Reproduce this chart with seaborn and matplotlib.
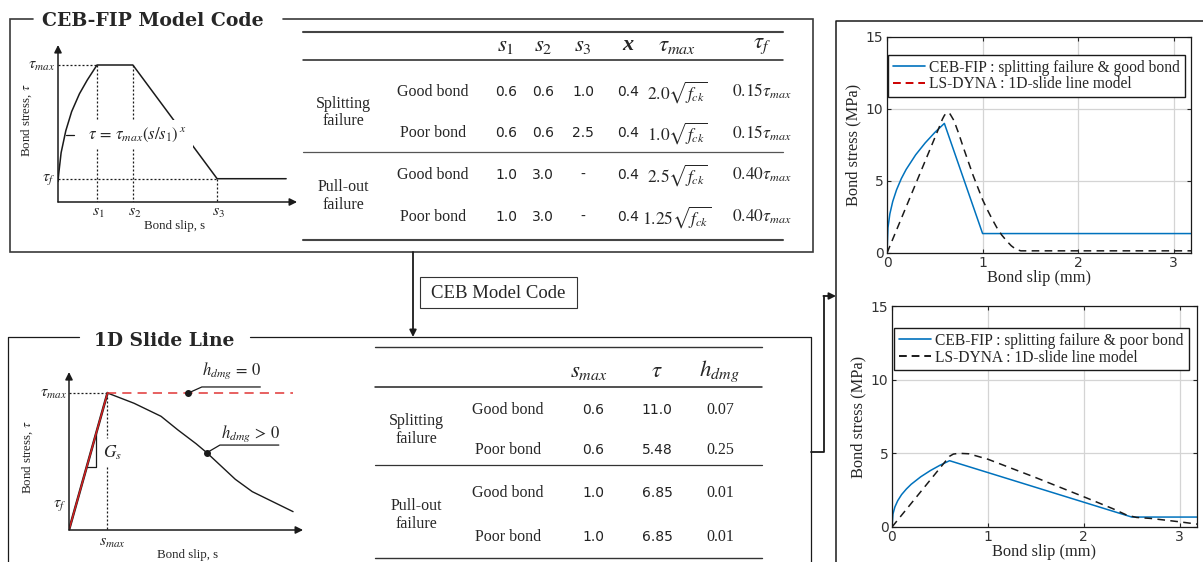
import matplotlib
matplotlib.use("Agg")
import matplotlib.pyplot as plt
import seaborn as sns
from matplotlib.lines import Line2D
from matplotlib.patches import Rectangle

# ---------------- table contents ----------------
ceb_groups = ["Splitting\nfailure", "Pull-out\nfailure"]
ceb_bond = ["Good bond", "Poor bond", "Good bond", "Poor bond"]
ceb_s1 = ["0.6", "0.6", "1.0", "1.0"]
ceb_s2 = ["0.6", "0.6", "3.0", "3.0"]
ceb_s3 = ["1.0", "2.5", "-", "-"]
ceb_x = ["0.4", "0.4", "0.4", "0.4"]
ceb_tmax = [r"$2.0\sqrt{f_{ck}}$", r"$1.0\sqrt{f_{ck}}$",
            r"$2.5\sqrt{f_{ck}}$", r"$1.25\sqrt{f_{ck}}$"]
ceb_tf = [r"$0.15\tau_{max}$", r"$0.15\tau_{max}$",
          r"$0.40\tau_{max}$", r"$0.40\tau_{max}$"]
ceb_headers = [r"$s_1$", r"$s_2$", r"$s_3$", "x", r"$\tau_{max}$", r"$\tau_f$"]

sl_groups = ["Splitting\nfailure", "Pull-out\nfailure"]
sl_bond = ["Good bond", "Poor bond", "Good bond", "Poor bond"]
sl_smax = ["0.6", "0.6", "1.0", "1.0"]
sl_tau = ["11.0", "5.48", "6.85", "6.85"]
sl_hdmg = ["0.07", "0.25", "0.01", "0.01"]
sl_headers = [r"$s_{max}$", r"$\tau$", r"$h_{dmg}$"]

# ---------------- schematic curves (normalised units) ----------------
ceb_sch_s = [0.0, 0.02, 0.08, 0.2, 0.35, 0.55, 0.75, 1.0, 1.92, 4.08, 5.85]
ceb_sch_tau = [0.15, 0.21, 0.36, 0.52, 0.66, 0.79, 0.89, 1.0, 1.0, 0.17, 0.17]

sl_rise_s = [0.0, 1.0]
sl_rise_tau = [0.0, 1.0]
sl_soft_s = [1.0, 1.69, 2.39, 2.83, 3.3, 3.58, 4.32, 4.76, 5.82]
sl_soft_tau = [1.0, 0.925, 0.83, 0.73, 0.63, 0.564, 0.37, 0.28, 0.134]
sl_perfect_s = [1.0, 5.82]
sl_perfect_tau = [1.0, 1.0]

# ---------------- bond stress-slip curves (MPa vs mm) ----------------
good_ceb_slip = [0, 0.01, 0.03, 0.06, 0.1, 0.15, 0.2, 0.3, 0.4, 0.5, 0.6, 1.0, 3.2]
good_ceb_stress = [0, 1.75, 2.72, 3.58, 4.39, 5.17, 5.80, 6.82, 7.65, 8.37, 9.0, 1.35, 1.35]
good_dyna_slip = [0, 0.3, 0.55, 0.58, 0.6, 0.62, 0.64, 0.66, 0.7, 0.75, 0.8, 0.9,
                  1.0, 1.05, 1.1, 1.15, 1.2, 1.25, 1.3, 1.35, 1.4, 3.2]
good_dyna_stress = [0, 4.8, 8.8, 9.3, 9.55, 9.72, 9.75, 9.65, 9.2, 8.3, 7.3, 5.4,
                    3.7, 3.0, 2.35, 1.75, 1.25, 0.85, 0.5, 0.25, 0.15, 0.15]

poor_ceb_slip = [0, 0.01, 0.03, 0.06, 0.1, 0.15, 0.2, 0.3, 0.4, 0.5, 0.6, 2.5, 3.2]
poor_ceb_stress = [0, 0.88, 1.36, 1.79, 2.2, 2.58, 2.9, 3.41, 3.83, 4.19, 4.5, 0.675, 0.675]
poor_dyna_slip = [0, 0.6, 0.64, 0.7, 0.8, 1.0, 1.5, 2.0, 2.3, 2.45, 2.55, 2.7, 3.0, 3.2]
poor_dyna_stress = [0, 4.8, 4.95, 5.0, 4.97, 4.6, 3.35, 2.05, 1.25, 0.8, 0.65, 0.58, 0.35, 0.18]

legend_good = ["CEB-FIP : splitting failure & good bond", "LS-DYNA : 1D-slide line model"]
legend_poor = ["CEB-FIP : splitting failure & poor bond", "LS-DYNA : 1D-slide line model"]

# ---------------- style ----------------
sns.set_theme(style="white")
plt.rcParams["font.family"] = ["Liberation Serif", "DejaVu Serif"]
plt.rcParams["mathtext.fontset"] = "stix"

BLUE = "#0072BD"
SERIF = "Liberation Serif"
SANS = "DejaVu Sans"
W, H = 1203, 562

fig = plt.figure(figsize=(W / 100, H / 100), dpi=100)
fig.patch.set_facecolor("white")

canvas = fig.add_axes([0, 0, 1, 1])
canvas.set_xlim(0, W)
canvas.set_ylim(H, 0)
canvas.axis("off")


def px_axes(x0, y0, x1, y1):
    return fig.add_axes([x0 / W, 1 - y1 / H, (x1 - x0) / W, (y1 - y0) / H])


# ---------------- frames, titles, arrows ----------------
canvas.plot([33, 10, 10, 813, 813, 283], [19, 19, 252, 252, 19, 19],
            color="#3a3a3a", lw=1.2, solid_joinstyle="miter")
canvas.text(152.5, 21, "CEB-FIP Model Code", family="DejaVu Serif", weight="bold",
            size=13.6, ha="center", va="center")

canvas.plot([79, 8, 8], [337, 337, 570], color="k", lw=0.9)
canvas.plot([250, 811, 811], [337, 337, 570], color="k", lw=0.9)
canvas.text(164, 341, "1D Slide Line", family="DejaVu Serif", weight="bold",
            size=13.4, ha="center", va="center")

canvas.plot([836, 836, 1210], [570, 21, 21], color="k", lw=1.1)

canvas.annotate("", xy=(413, 337), xytext=(413, 252),
                arrowprops=dict(arrowstyle="-|>", color="k", lw=1.3,
                                mutation_scale=10, shrinkA=0, shrinkB=0))
canvas.add_patch(Rectangle((420, 277), 157, 31, fill=False, edgecolor="#333333", lw=0.8))
canvas.text(498.5, 293, "CEB Model Code", size=13.5, ha="center", va="center")

canvas.plot([811, 824, 824], [452, 452, 296], color="k", lw=1.3)
canvas.annotate("", xy=(836, 296), xytext=(823.4, 296),
                arrowprops=dict(arrowstyle="-|>", color="k", lw=1.3,
                                mutation_scale=10, shrinkA=0, shrinkB=0))

# ---------------- CEB-FIP table ----------------
tx0, tx1 = 303, 783
canvas.plot([tx0, tx1], [31.7, 31.7], color="#444444", lw=1.5)
canvas.plot([tx0, tx1], [60, 60], color="#222222", lw=1.1)
canvas.plot([tx0, tx1], [151.7, 151.7], color="#555555", lw=0.9)
canvas.plot([tx0, tx1], [240, 240], color="#444444", lw=1.5)

ceb_cols = [506, 543, 583, 628, 677, 762]
for xc, hd in zip(ceb_cols, ceb_headers):
    if hd == "x":
        canvas.text(xc, 45, hd, family=SERIF, weight="bold", style="italic",
                    size=16, ha="center", va="center")
    else:
        canvas.text(xc, 45, hd, size=16.5, ha="center", va="center")

ceb_rows = [91.7, 133.3, 175, 216.7]
for gi, grp in enumerate(ceb_groups):
    yc = (ceb_rows[2 * gi] + ceb_rows[2 * gi + 1]) / 2
    canvas.text(343, yc, grp, size=11.5, ha="center", va="center", linespacing=1.15)
for i, yc in enumerate(ceb_rows):
    canvas.text(433, yc, ceb_bond[i], size=11.5, ha="center", va="center")
    for xc, col in zip(ceb_cols[:4], [ceb_s1, ceb_s2, ceb_s3, ceb_x]):
        canvas.text(xc, yc, col[i], family=SANS, size=10, color="#222222",
                    ha="center", va="center")
    canvas.text(ceb_cols[4], yc, ceb_tmax[i], size=12.5, ha="center", va="center")
    canvas.text(ceb_cols[5], yc, ceb_tf[i], size=12.5, ha="center", va="center")

# ---------------- slide line table ----------------
sx0, sx1 = 375, 762
canvas.plot([sx0, sx1], [346.7, 346.7], color="#333333", lw=1.0)
canvas.plot([sx0, sx1], [386.7, 386.7], color="#222222", lw=1.1)
canvas.plot([sx0, sx1], [465, 465], color="#333333", lw=0.9)
canvas.plot([sx0, sx1], [558.3, 558.3], color="#333333", lw=1.0)

sl_cols = [589, 657, 719]
for xc, hd in zip(sl_cols, sl_headers):
    canvas.text(xc, 371.7, hd, size=16.5, ha="center", va="center")

sl_rows = [410, 450, 493, 536.7]
for gi, grp in enumerate(sl_groups):
    yc = (sl_rows[2 * gi] + sl_rows[2 * gi + 1]) / 2
    canvas.text(416.7, yc, grp, size=11.5, ha="center", va="center", linespacing=1.15)
for i, yc in enumerate(sl_rows):
    canvas.text(508, yc, sl_bond[i], size=11.5, ha="center", va="center")
    canvas.text(593, yc, sl_smax[i], family=SANS, size=10, color="#222222",
                ha="center", va="center")
    canvas.text(657, yc, sl_tau[i], family=SANS, size=10, color="#222222",
                ha="center", va="center")
    canvas.text(720, yc, sl_hdmg[i], size=11.5, ha="center", va="center")

# ---------------- CEB-FIP schematic ----------------
arrow_kw = dict(arrowstyle="-|>", color="k", lw=1.1, mutation_scale=11,
                shrinkA=0, shrinkB=0)
dot_kw = dict(color="k", lw=0.9, ls=(0, (1.6, 1.6)))
MS = 11.5  # size of schematic math labels

ax_c = px_axes(58, 202 - 137 * 1.2, 58 + 39 * 6.3, 202)
ax_c.set_xlim(0, 6.3)
ax_c.set_ylim(0, 1.2)
ax_c.axis("off")
ax_c.patch.set_alpha(0)
ax_c.annotate("", xy=(6.13, 0), xytext=(0, 0), arrowprops=arrow_kw, annotation_clip=False)
ax_c.annotate("", xy=(0, 1.146), xytext=(0, 0), arrowprops=arrow_kw, annotation_clip=False)
ax_c.plot([0, 1.0], [1.0, 1.0], **dot_kw)
ax_c.plot([1.0, 1.0], [1.0, 0], **dot_kw)
ax_c.plot([1.92, 1.92], [1.0, 0], **dot_kw)
ax_c.plot([0, 4.08], [0.17, 0.17], **dot_kw)
ax_c.plot([4.08, 4.08], [0.17, 0], **dot_kw)
sns.lineplot(x=ceb_sch_s, y=ceb_sch_tau, ax=ax_c, color="k", lw=1.1,
             estimator=None, sort=False, legend=False)
ax_c.plot([0.2, 0.42], [0.49, 0.49], color="k", lw=0.9)
ax_c.text(2.05, 0.49, r"$\tau\,=\,\tau_{max}(s/s_1)^{\;x}$", size=12,
          ha="center", va="center", zorder=6,
          bbox=dict(facecolor="white", edgecolor="none", pad=4))
ax_c.text(-0.06, 1.0, r"$\tau_{max}$", size=MS, ha="right", va="center")
ax_c.text(-0.06, 0.17, r"$\tau_f$", size=MS, ha="right", va="center")
for sx, lab in zip([1.0, 1.92, 4.08], [r"$s_1$", r"$s_2$", r"$s_3$"]):
    ax_c.text(sx + 0.04, -0.075, lab, size=MS, ha="center", va="center")
ax_c.text(3.0, -0.175, "Bond slip, s", size=9.3, ha="center", va="center")
ax_c.text(-0.8, 0.6, r"Bond stress, $\tau$", size=9.3, ha="center", va="center",
          rotation=90)

# ---------------- slide line schematic ----------------
ax_s = px_axes(69, 530 - 137 * 1.2, 69 + 38.5 * 6.3, 530)
ax_s.set_xlim(0, 6.3)
ax_s.set_ylim(0, 1.2)
ax_s.axis("off")
ax_s.patch.set_alpha(0)
ax_s.annotate("", xy=(6.08, 0), xytext=(0, 0), arrowprops=arrow_kw, annotation_clip=False)
ax_s.annotate("", xy=(0, 1.153), xytext=(0, 0), arrowprops=arrow_kw, annotation_clip=False)
ax_s.plot([0, 1.0], [1.0, 1.0], **dot_kw)
ax_s.plot([1.0, 1.0], [1.0, 0.67], **dot_kw)
ax_s.plot([1.0, 1.0], [0.46, 0], **dot_kw)
ax_s.plot([0.71, 0.71, 0.48], [0.71, 0.462, 0.462], color="k", lw=0.9)
sns.lineplot(x=sl_rise_s, y=sl_rise_tau, ax=ax_s, color="k", lw=1.8,
             estimator=None, sort=False, legend=False)
sns.lineplot(x=sl_rise_s, y=sl_rise_tau, ax=ax_s, color="#d42020", lw=1.1,
             estimator=None, sort=False, legend=False)
sns.lineplot(x=sl_soft_s, y=sl_soft_tau, ax=ax_s, color="k", lw=1.0,
             estimator=None, sort=False, legend=False)
sns.lineplot(x=sl_perfect_s, y=sl_perfect_tau, ax=ax_s, color="#e03535", lw=1.1,
             linestyle=(0, (6, 4)), estimator=None, sort=False, legend=False)
ax_s.plot([3.1], [1.0], "o", color="k", ms=4)
ax_s.plot([3.1, 3.45, 4.97], [1.0, 1.044, 1.044], color="k", lw=0.9)
ax_s.text(4.22, 1.16, r"$h_{dmg}\,=\,0$", size=12, ha="center", va="center")
ax_s.plot([3.58], [0.564], "o", color="k", ms=4)
ax_s.plot([3.58, 3.92, 5.45], [0.564, 0.62, 0.62], color="k", lw=0.9)
ax_s.text(4.72, 0.70, r"$h_{dmg}\,>\,0$", size=12, ha="center", va="center")
ax_s.text(1.12, 0.56, r"$G_s$", size=12.5, ha="center", va="center")
ax_s.text(-0.05, 1.0, r"$\tau_{max}$", size=MS, ha="right", va="center")
ax_s.text(-0.08, 0.18, r"$\tau_f$", size=MS, ha="right", va="center")
ax_s.text(1.14, -0.09, r"$s_{max}$", size=MS, ha="center", va="center")
ax_s.text(3.07, -0.18, "Bond slip, s", size=9.3, ha="center", va="center")
ax_s.text(-1.06, 0.53, r"Bond stress, $\tau$", size=9.3, ha="center", va="center",
          rotation=90)


# ---------------- stress-slip panels ----------------
def style_panel(ax):
    ax.set_xlim(0, 3.18)
    ax.set_ylim(0, 15)
    ax.set_xticks([0, 1, 2, 3])
    ax.set_yticks([0, 5, 10, 15])
    ax.grid(True, color="#d4d4d4", lw=0.9)
    ax.set_axisbelow(True)
    for sp in ax.spines.values():
        sp.set_visible(True)
        sp.set_color("#1a1a1a")
        sp.set_linewidth(0.9)
    ax.tick_params(direction="in", length=3, width=0.8, top=True, right=True,
                   bottom=True, left=True, labelsize=10, labelcolor="#333333",
                   labelfontfamily=SANS, pad=2.5)
    ax.set_xlabel("Bond slip (mm)", size=11.8, labelpad=0)
    ax.set_ylabel("Bond stress (MPa)", size=11.8, labelpad=3)


ax_g = px_axes(887, 37, 1191, 253)
sns.lineplot(x=good_ceb_slip, y=good_ceb_stress, ax=ax_g, color=BLUE, lw=1.1,
             estimator=None, sort=False, legend=False)
sns.lineplot(x=good_dyna_slip, y=good_dyna_stress, ax=ax_g, color="k", lw=1.1,
             linestyle=(0, (5, 3.5)), estimator=None, sort=False, legend=False)
style_panel(ax_g)
h_good = [Line2D([], [], color=BLUE, lw=1.2),
          Line2D([], [], color="#cc0000", lw=1.4, ls=(0, (4, 2.5)))]
leg = ax_g.legend(h_good, legend_good, loc="upper left", bbox_to_anchor=(0.003, 0.917),
                  borderaxespad=0, fancybox=False, framealpha=1, edgecolor="k",
                  fontsize=11.2, handlelength=2.1, handletextpad=0.25,
                  labelspacing=0.05, borderpad=0.3)
leg.get_frame().set_linewidth(1.0)

ax_p = px_axes(892, 306, 1197, 527)
sns.lineplot(x=poor_ceb_slip, y=poor_ceb_stress, ax=ax_p, color=BLUE, lw=1.1,
             estimator=None, sort=False, legend=False)
sns.lineplot(x=poor_dyna_slip, y=poor_dyna_stress, ax=ax_p, color="k", lw=1.1,
             linestyle=(0, (5, 3.5)), estimator=None, sort=False, legend=False)
style_panel(ax_p)
h_poor = [Line2D([], [], color=BLUE, lw=1.2),
          Line2D([], [], color="k", lw=1.4, ls=(0, (4, 2.5)))]
leg = ax_p.legend(h_poor, legend_poor, loc="upper left", bbox_to_anchor=(0.007, 0.90),
                  borderaxespad=0, fancybox=False, framealpha=1, edgecolor="k",
                  fontsize=11.2, handlelength=2.1, handletextpad=0.25,
                  labelspacing=0.05, borderpad=0.3)
leg.get_frame().set_linewidth(1.0)

fig.savefig("out.png", dpi=100, facecolor="white")
